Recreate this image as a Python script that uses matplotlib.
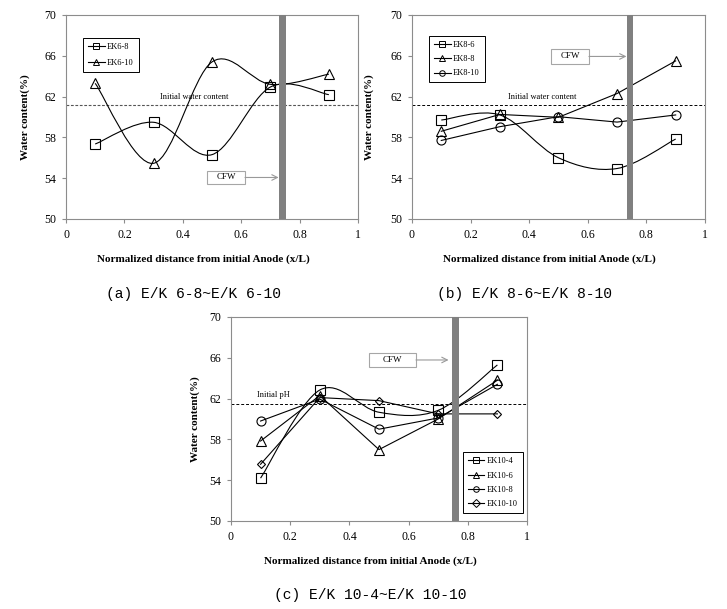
import numpy as np
import matplotlib
matplotlib.use("Agg")
import matplotlib.pyplot as plt
from matplotlib.path import Path
from matplotlib.patches import PathPatch, Rectangle
from matplotlib.lines import Line2D

# positions along the specimen (x/L)
x_pos = [0.1, 0.3, 0.5, 0.7, 0.9]

# (a) E/K 6-8 ~ E/K 6-10
ek6_8 = [57.35, 59.48, 56.31, 62.94, 62.19]
ek6_10 = [63.3, 55.46, 65.4, 63.2, 64.2]

# (b) E/K 8-6 ~ E/K 8-10
ek8_6 = [59.7, 60.2, 56.0, 54.95, 57.84]
ek8_8 = [58.6, 60.25, 59.97, 62.3, 65.5]
ek8_10 = [57.7, 59.05, 60.03, 59.5, 60.2]

# (c) E/K 10-4 ~ E/K 10-10
ek10_4 = [54.2, 62.84, 60.66, 60.85, 65.3]
ek10_6 = [57.84, 62.3, 57.0, 60.0, 63.8]
ek10_8 = [59.8, 61.95, 59.0, 60.1, 63.4]
ek10_10 = [55.56, 62.1, 61.8, 60.5, 60.5]

initial_a = 61.2
initial_b = 61.15
initial_c = 61.45

x_ticks = [0, 0.2, 0.4, 0.6, 0.8, 1]
x_tick_labels = ["0", "0.2", "0.4", "0.6", "0.8", "1"]
y_ticks = [50, 54, 58, 62, 66, 70]

SERIF = "Liberation Serif"
GRAY = "#8c8c8c"


def smooth_path(xs, ys):
    # excel-like smoothed line (catmull-rom -> bezier)
    pts = np.column_stack([xs, ys]).astype(float)
    n = len(pts)
    verts = [pts[0]]
    codes = [Path.MOVETO]
    for i in range(n - 1):
        p0 = pts[max(i - 1, 0)]
        p1 = pts[i]
        p2 = pts[i + 1]
        p3 = pts[min(i + 2, n - 1)]
        verts += [p1 + (p2 - p0) / 6, p2 - (p3 - p1) / 6, p2]
        codes += [Path.CURVE4] * 3
    return Path(verts, codes)


def draw_series(ax, ys, marker, ms, smooth):
    if smooth:
        ax.add_patch(PathPatch(smooth_path(x_pos, ys), fc="none", ec="black", lw=0.8, zorder=3))
        ax.plot(x_pos, ys, ls="none", marker=marker, ms=ms, mfc="none", mec="black", mew=0.8, zorder=4)
    else:
        ax.plot(x_pos, ys, color="black", lw=0.8, marker=marker, ms=ms, mfc="none", mec="black", mew=0.8, zorder=4)


def setup_axes(ax, ylab_x):
    ax.set_xlim(0, 1)
    ax.set_ylim(50, 70)
    ax.set_xticks(x_ticks)
    ax.set_xticklabels(x_tick_labels)
    ax.set_yticks(y_ticks)
    for s in ax.spines.values():
        s.set_color(GRAY)
        s.set_linewidth(0.8)
    ax.tick_params(direction="out", length=3, width=0.8, color=GRAY, labelsize=8.5, pad=4)
    for lab in ax.get_xticklabels() + ax.get_yticklabels():
        lab.set_family(SERIF)
    ax.set_xlabel("Normalized distance from initial Anode (x/L)", family=SERIF, fontweight="bold", fontsize=8)
    ax.set_ylabel("Water content(%)", family=SERIF, fontweight="bold", fontsize=8)
    ax.xaxis.set_label_coords(0.47, -0.172)
    ax.yaxis.set_label_coords(ylab_x, 0.5)


def cfw(ax, bar, box, arrow_end):
    ax.axvspan(bar[0], bar[1], color="#808080", lw=0, zorder=5)
    x0, x1, y0, y1 = box
    ax.add_patch(Rectangle((x0, y0), x1 - x0, y1 - y0, fc="white", ec="#a6a6a6", lw=0.8, zorder=6))
    ym = (y0 + y1) / 2
    ax.text((x0 + x1) / 2, ym, "CFW", family=SERIF, fontsize=6.5, ha="center", va="center", zorder=7)
    ax.annotate("", xy=(arrow_end, ym), xytext=(x1, ym),
                arrowprops=dict(arrowstyle="->", color="#999999", lw=0.8, shrinkA=0, shrinkB=0), zorder=6)


def legend(ax, labels, markers, spacing, **kw):
    handles = [Line2D([], [], color="black", lw=0.8, marker=m, ms=4, mfc="none", mec="black", mew=0.7)
               for m in markers]
    leg = ax.legend(handles, labels, frameon=True, fancybox=False, framealpha=1, edgecolor="black",
                    prop={"family": SERIF, "size": 6}, handlelength=2.0, handletextpad=0.3,
                    borderpad=0.6, labelspacing=spacing, borderaxespad=0, **kw)
    leg.get_frame().set_linewidth(0.7)
    leg.set_zorder(10)


fig = plt.figure(figsize=(7.27, 6.09), dpi=100)

# (a)
ax1 = fig.add_axes([0.0908, 0.6404, 0.4017, 0.335])
draw_series(ax1, ek6_8, "s", 6.5, True)
draw_series(ax1, ek6_10, "^", 6.5, True)
ax1.axhline(initial_a, color="#555555", lw=0.8, ls=(0, (2.5, 1.5)), zorder=2)
ax1.text(0.44, initial_a + 0.8, "Initial water content", family=SERIF, fontsize=6, ha="center", va="center")
cfw(ax1, (0.731, 0.753), (0.483, 0.613, 53.43, 54.71), 0.728)
setup_axes(ax1, -0.123)
legend(ax1, ["EK6-8", "EK6-10"], ["s", "^"], 0.95, loc="upper left", bbox_to_anchor=(0.058, 0.887))

# (b)
ax2 = fig.add_axes([0.5667, 0.6404, 0.403, 0.335])
draw_series(ax2, ek8_6, "s", 6.5, True)
draw_series(ax2, ek8_8, "^", 6.5, False)
draw_series(ax2, ek8_10, "o", 6.5, False)
ax2.axhline(initial_b, color="black", lw=0.7, ls=(0, (3, 2)), zorder=2)
ax2.text(0.443, initial_b + 0.85, "Initial water content", family=SERIF, fontsize=6, ha="center", va="center")
cfw(ax2, (0.734, 0.755), (0.474, 0.604, 65.2, 66.67), 0.732)
setup_axes(ax2, -0.13)
legend(ax2, ["EK8-6", "EK8-8", "EK8-10"], ["s", "^", "o"], 0.75, loc="upper left", bbox_to_anchor=(0.058, 0.897))

# (c)
ax3 = fig.add_axes([0.3177, 0.1445, 0.4072, 0.335])
draw_series(ax3, ek10_4, "s", 6.5, True)
draw_series(ax3, ek10_6, "^", 6.5, False)
draw_series(ax3, ek10_8, "o", 6.5, False)
draw_series(ax3, ek10_10, "D", 4.5, False)
ax3.axhline(initial_c, color="black", lw=0.7, ls=(0, (3, 2)), zorder=2)
ax3.text(0.145, initial_c + 0.9, "Initial pH", family=SERIF, fontsize=6, ha="center", va="center")
cfw(ax3, (0.747, 0.769), (0.466, 0.625, 65.1, 66.47), 0.735)
setup_axes(ax3, -0.105)
legend(ax3, ["EK10-4", "EK10-6", "EK10-8", "EK10-10"], ["s", "^", "o", "D"], 0.75,
       loc="lower right", bbox_to_anchor=(0.986, 0.039))

# captions
fig.text(0.2655, 0.517, "(a) E/K 6-8~E/K 6-10", family="Liberation Mono", fontsize=10.5, ha="center", va="center")
fig.text(0.721, 0.517, "(b) E/K 8-6~E/K 8-10", family="Liberation Mono", fontsize=10.5, ha="center", va="center")
fig.text(0.509, 0.023, "(c) E/K 10-4~E/K 10-10", family="Liberation Mono", fontsize=10.5, ha="center", va="center")

fig.savefig("out.png", dpi=100)
